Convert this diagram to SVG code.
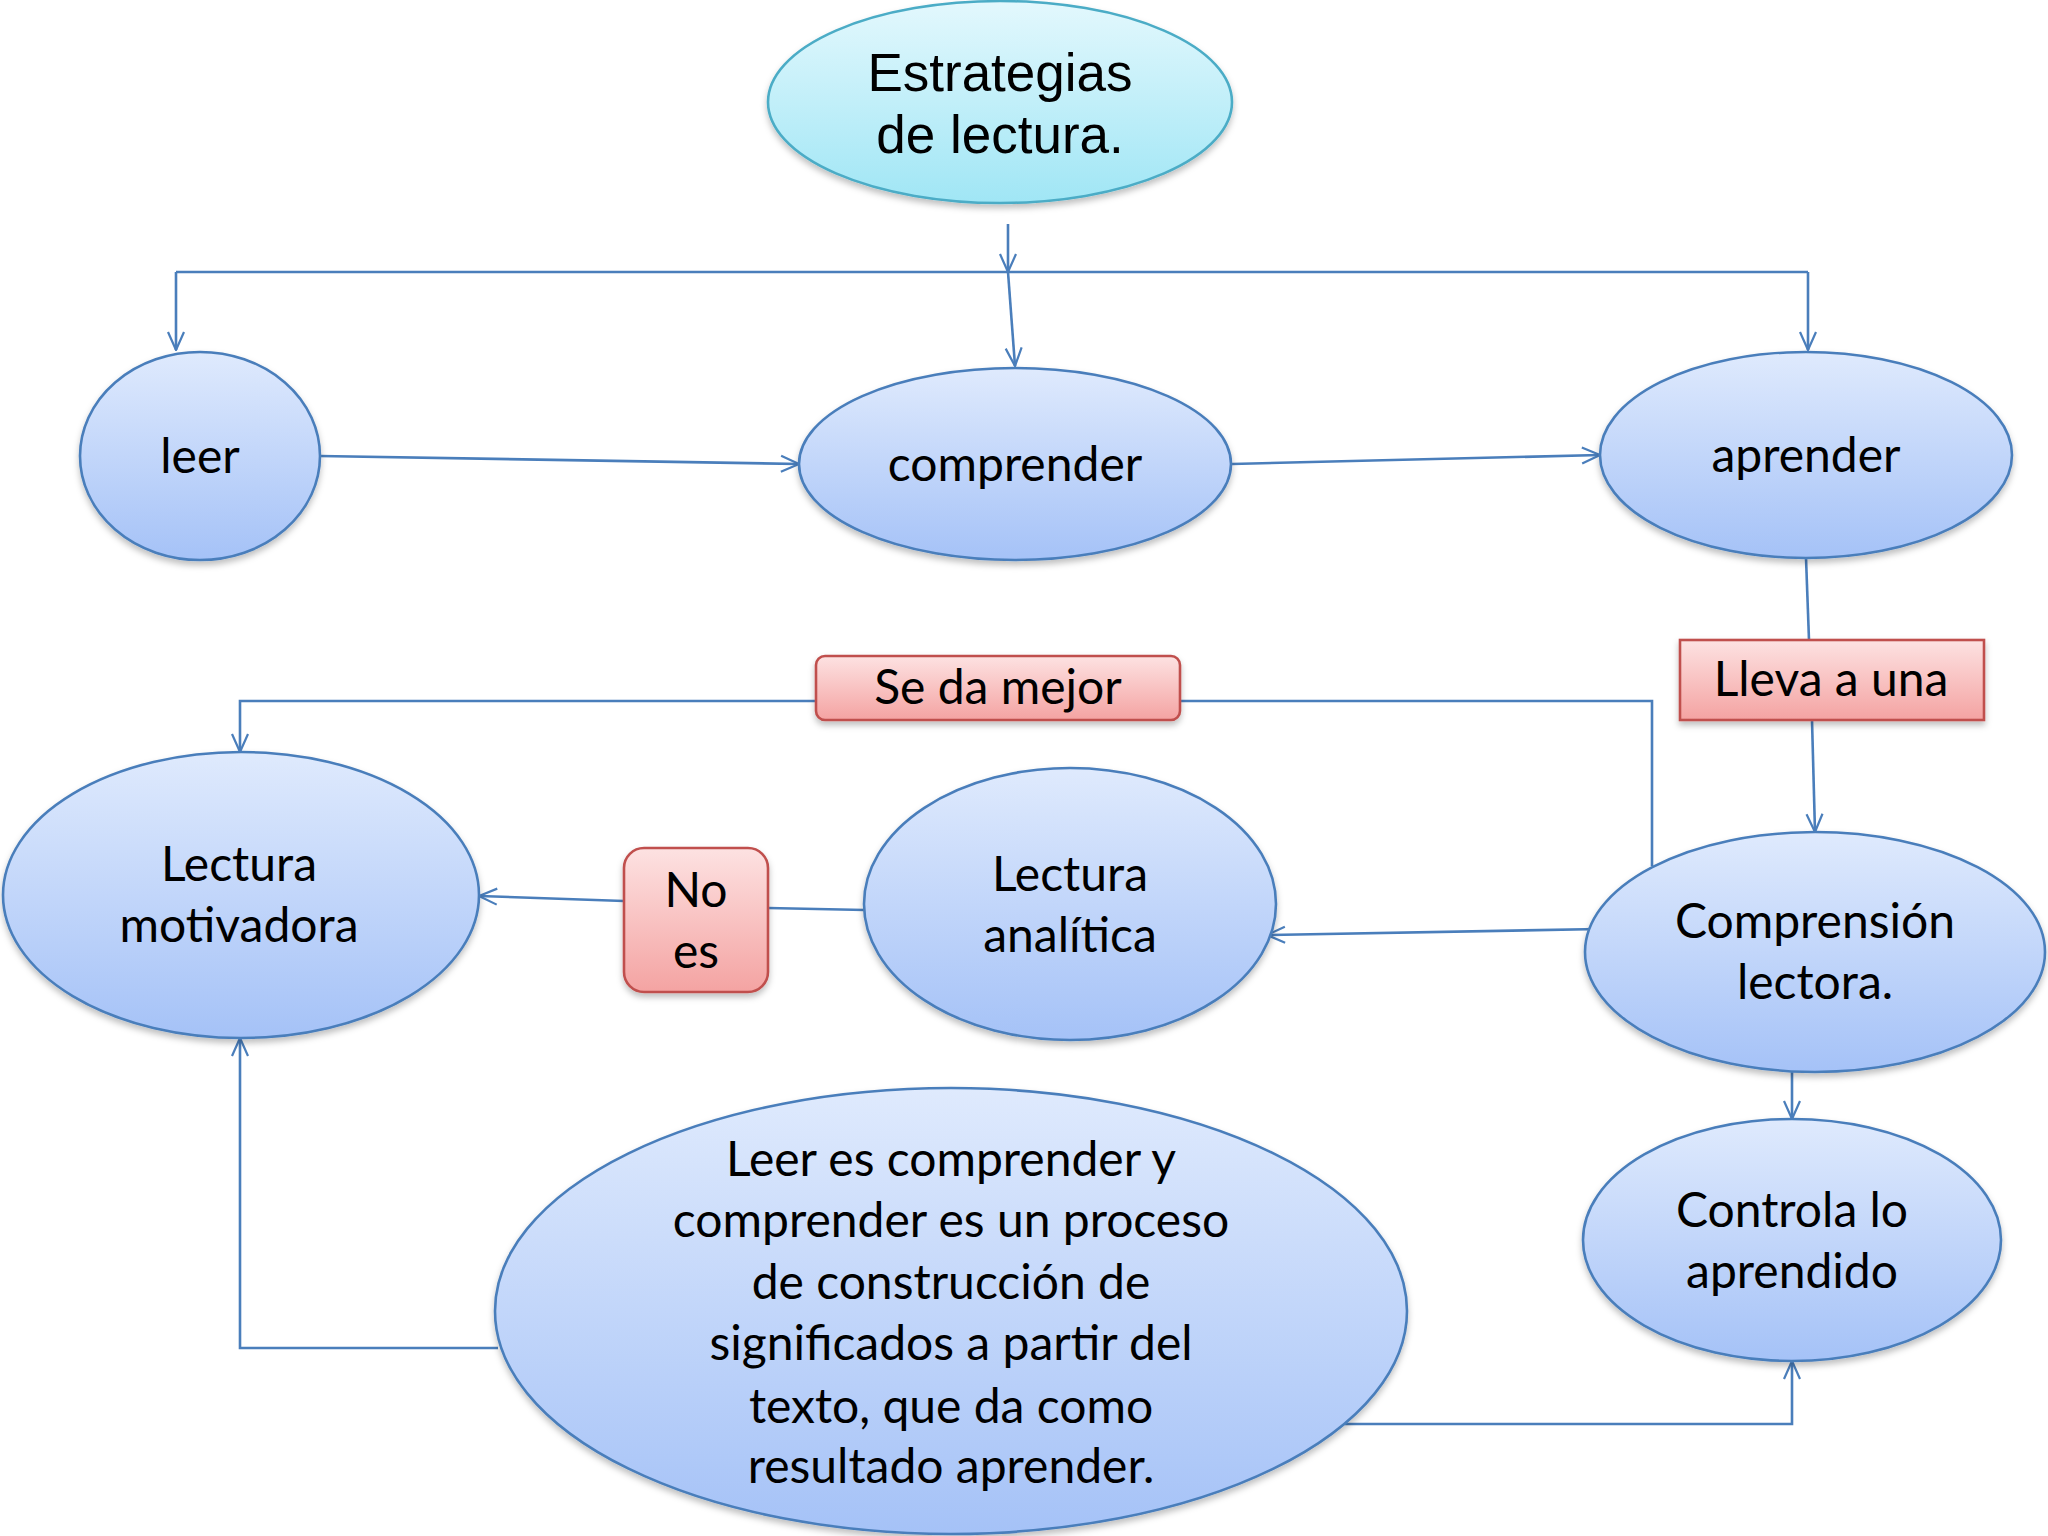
<svg xmlns="http://www.w3.org/2000/svg" width="2048" height="1536" viewBox="0 0 2048 1536">
<style>
.node{fill:url(#blueGrad);stroke:#4a7ebb;stroke-width:2.6;filter:url(#sh)}
.top{fill:url(#cyanGrad);stroke:#4bacc6;stroke-width:2.6;filter:url(#sh)}
.lbl{fill:url(#pinkGrad);stroke:#c0504d;stroke-width:2.6;filter:url(#sh)}
.t{font-family:Lato,"Open Sans","Noto Sans",sans-serif;font-size:48px;fill:#000;text-anchor:middle}
.ta{font-family:"Liberation Sans",Arial,sans-serif;font-size:53px;fill:#000;text-anchor:middle}
.c{fill:none;stroke:#4a7ebb;stroke-width:2.6}
.ca{fill:none;stroke:#4a7ebb;stroke-width:2.6;marker-end:url(#arr)}
</style>
<defs>
<linearGradient id="blueGrad" x1="0" y1="0" x2="0" y2="1">
<stop offset="0" stop-color="#dfeafd"/>
<stop offset="1" stop-color="#a5c2f7"/>
</linearGradient>
<linearGradient id="cyanGrad" x1="0" y1="0" x2="0" y2="1">
<stop offset="0" stop-color="#e3f8fd"/>
<stop offset="1" stop-color="#a0e6f5"/>
</linearGradient>
<linearGradient id="pinkGrad" x1="0" y1="0" x2="0" y2="1">
<stop offset="0" stop-color="#fde2e2"/>
<stop offset="1" stop-color="#f4a3a2"/>
</linearGradient>
<filter id="sh" x="-10%" y="-10%" width="120%" height="130%">
<feDropShadow dx="0" dy="4" stdDeviation="3" flood-color="#000" flood-opacity="0.25"/>
</filter>
<marker id="arr" viewBox="0 0 20 20" refX="19" refY="10" markerWidth="20" markerHeight="20" markerUnits="userSpaceOnUse" orient="auto">
<path d="M1,2 L19,10 L1,18" fill="none" stroke="#4a7ebb" stroke-width="2.2"/>
</marker>
</defs>
<rect width="2048" height="1536" fill="#ffffff"/>

<g id="connectors">
<path class="ca" d="M1008,224 L1008,272"/>
<path class="c" d="M176,272 L1808,272"/>
<path class="ca" d="M176,272 L176,350"/>
<path class="ca" d="M1808,272 L1808,350"/>
<path class="ca" d="M1008,272 L1015,366"/>
<path class="ca" d="M320,456 L799,464"/>
<path class="ca" d="M1232,464 L1600,455"/>
<path class="c" d="M1806,558 L1809,640"/>
<path class="ca" d="M1812,720 L1815,832"/>
<path class="ca" d="M1600,929 L1267,935"/>
<path class="c" d="M865,910 L768,908"/>
<path class="ca" d="M624,901 L479,896"/>
<path class="c" d="M1652,866 L1652,701 L1180,701"/>
<path class="ca" d="M816,701 L240,701 L240,752"/>
<path class="ca" d="M1792,1072 L1792,1119"/>
<path class="ca" d="M498,1348 L240,1348 L240,1038"/>
<path class="ca" d="M1345,1424 L1792,1424 L1792,1361"/>
</g>

<g id="estrategias">
<ellipse class="top" cx="1000" cy="102" rx="232" ry="101"/>
<text class="ta" x="1000" y="91">Estrategias</text>
<text class="ta" x="1000" y="153">de lectura.</text>
</g>
<g id="leer">
<ellipse class="node" cx="200" cy="456" rx="120" ry="104"/>
<text class="t" x="200" y="473">leer</text>
</g>
<g id="comprender">
<ellipse class="node" cx="1015" cy="464" rx="216" ry="96"/>
<text class="t" x="1015" y="481">comprender</text>
</g>
<g id="aprender">
<ellipse class="node" cx="1806" cy="455" rx="206" ry="103"/>
<text class="t" x="1806" y="472">aprender</text>
</g>
<g id="lleva">
<rect class="lbl" x="1680" y="640" width="304" height="80"/>
<text class="t" x="1831" y="696">Lleva a una</text>
</g>
<g id="sedamejor">
<rect class="lbl" x="816" y="656" width="364" height="64" rx="9"/>
<text class="t" x="998" y="704">Se da mejor</text>
</g>
<g id="noes">
<rect class="lbl" x="624" y="848" width="144" height="144" rx="20"/>
<text class="t" x="696" y="907">No</text>
<text class="t" x="696" y="968">es</text>
</g>
<g id="motivadora">
<ellipse class="node" cx="241" cy="895" rx="238" ry="143"/>
<text class="t" x="239" y="881">Lectura</text>
<text class="t" x="239" y="942">motivadora</text>
</g>
<g id="analitica">
<ellipse class="node" cx="1070" cy="904" rx="206" ry="136"/>
<text class="t" x="1070" y="891">Lectura</text>
<text class="t" x="1070" y="952">analítica</text>
</g>
<g id="comprension">
<ellipse class="node" cx="1815" cy="952" rx="230" ry="120"/>
<text class="t" x="1815" y="938">Comprensión</text>
<text class="t" x="1815" y="999">lectora.</text>
</g>
<g id="controla">
<ellipse class="node" cx="1792" cy="1240" rx="209" ry="121"/>
<text class="t" x="1792" y="1227">Controla lo</text>
<text class="t" x="1792" y="1288">aprendido</text>
</g>
<g id="leeres">
<ellipse class="node" cx="951" cy="1311" rx="456" ry="223"/>
<text class="t" x="951" y="1176">Leer es comprender y</text>
<text class="t" x="951" y="1237">comprender es un proceso</text>
<text class="t" x="951" y="1299">de construcción de</text>
<text class="t" x="951" y="1360">significados a partir del</text>
<text class="t" x="951" y="1423">texto, que da como</text>
<text class="t" x="951" y="1483">resultado aprender.</text>
</g>
</svg>
